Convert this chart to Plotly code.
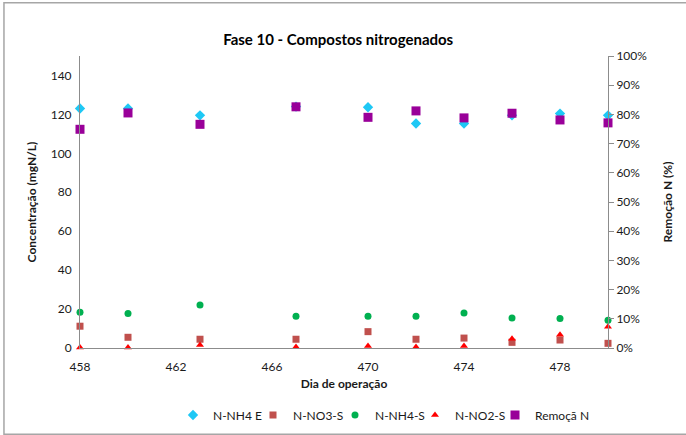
import plotly.graph_objects as go

dias = [458, 460, 463, 467, 470, 472, 474, 476, 478, 480]

nh4_e = [123.0, 123.0, 119.5, 124.0, 123.7, 115.3, 115.3, 119.5, 120.4, 119.5]
no3_s = [11.2, 5.5, 4.5, 4.5, 8.4, 4.5, 5.1, 2.9, 4.1, 2.4]
nh4_s = [18.4, 17.7, 22.1, 16.3, 16.3, 16.3, 18.0, 15.4, 15.1, 14.2]
no2_s = [0.3, 0.3, 1.6, 0.5, 1.0, 0.5, 1.0, 4.7, 6.8, 10.9]
remocao = [0.749, 0.805, 0.766, 0.826, 0.790, 0.812, 0.788, 0.804, 0.781, 0.771]

FONT = "Lato, 'Liberation Sans', sans-serif"

fig = go.Figure()

series = [
    ("N-NH4 E", nh4_e, "diamond", "#1EC8F5", 8, "y"),
    ("N-NO3-S", no3_s, "square", "#C0504D", 7, "y"),
    ("N-NH4-S", nh4_s, "circle", "#00B050", 7, "y"),
    ("N-NO2-S", no2_s, "triangle-up", "#FF0000", 7, "y"),
    ("Remoçã N", remocao, "square", "#990099", 9, "y2"),
]
# one small legend per series so each entry can sit where Excel put it
leg_x = [173, 253, 335, 415, 495]
leg_y = 1 - 415 / 435
legends = {}
for i, (name, vals, sym, col, size, yax) in enumerate(series):
    key = "legend" if i == 0 else f"legend{i + 1}"
    fig.add_trace(go.Scatter(
        x=dias, y=vals, name=name, mode="markers", yaxis=yax, legend=key,
        marker=dict(symbol=sym, color=col, size=size, line=dict(width=0)),
        cliponaxis=False,
    ))
    legends[key] = dict(orientation="h", xref="container", yref="container",
                        x=leg_x[i] / 686, xanchor="left", y=leg_y, yanchor="middle",
                        font=dict(size=12), itemwidth=30, bgcolor="rgba(0,0,0,0)")

axis_col = "#8C8C8C"
fig.update_layout(
    width=686, height=435,
    margin=dict(l=80, r=78, t=56, b=87),
    paper_bgcolor="white", plot_bgcolor="white",
    font=dict(family=FONT, size=12, color="#1A1A1A"),
    title=dict(text="<b>Fase 10 - Compostos nitrogenados</b>", x=0.493, xanchor="center",
               y=1 - 40 / 435, yanchor="middle", font=dict(size=15, color="black")),
    xaxis=dict(range=[458, 480], tick0=458, dtick=4, showgrid=False, zeroline=False,
               showline=True, linecolor=axis_col, ticks="", automargin=False,
               ticklabelstandoff=8,
               title=dict(text="<b>Dia de operação</b>", standoff=6, font=dict(size=12))),
    yaxis=dict(range=[0, 150], tick0=0, dtick=20, showgrid=False, zeroline=False,
               showline=True, linecolor=axis_col, ticks="", automargin=False,
               tickvals=[0, 20, 40, 60, 80, 100, 120, 140], ticklabelstandoff=5,
               title=dict(text="<b>Concentração (mgN/L)</b>", standoff=11, font=dict(size=12))),
    yaxis2=dict(range=[0, 1], dtick=0.1, tickformat=".0%", overlaying="y", side="right",
                showgrid=False, zeroline=False, showline=True, linecolor=axis_col,
                ticks="outside", ticklen=5, tickcolor=axis_col, automargin=False,
                title=dict(text="<b>Remoção N (%)</b>", standoff=17, font=dict(size=12))),
    showlegend=True,
    shapes=[dict(type="rect", xref="paper", yref="paper", x0=-0.144, x1=1.16,
                 y0=-0.295, y1=1.182, line=dict(color="#A6A6A6", width=1.5), layer="below")],
    **legends,
)

# drop the default 8px body margin so the figure sits at the window's corner
fig.write_html("out.html", config={"displayModeBar": False},
               post_script="document.body.style.margin='0';")
